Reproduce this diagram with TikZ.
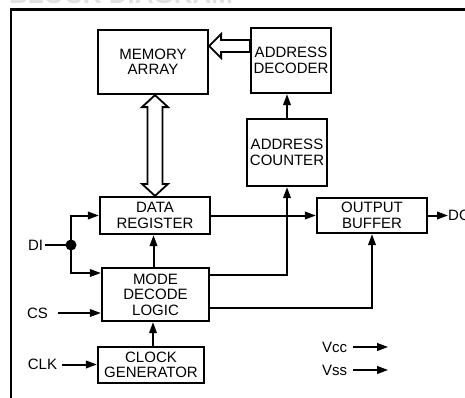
\documentclass[tikz,border=0pt]{standalone}
\usepackage{fontspec}
\setmainfont{Liberation Sans}
\usetikzlibrary{arrows.meta,calc}
\begin{document}
\begin{tikzpicture}[x=1pt,y=-1pt,
  blk/.style={draw,line width=2.2pt,align=center,inner sep=0pt,
    font=\fontsize{15}{15.5}\selectfont},
  lbl/.style={inner sep=0pt,font=\fontsize{15}{15}\selectfont},
  arr/.style={line width=2pt,-{Triangle[length=11pt,width=7.5pt]}},
  wire/.style={line width=2pt},
  hollow/.style={line width=1.8pt,fill=white,line join=miter}]
\useasboundingbox (0,0) rectangle (465,397);
% clipped title
\node[anchor=base west,inner sep=0pt,text=gray!25,font=\bfseries\fontsize{26}{26}\selectfont] (title) at (9,3) {BLOCK DIAGRAM};
% frame
\draw[line width=2.2pt] (11,400) |- (470,9.5);
% blocks
\node[blk,minimum width=110pt,minimum height=64pt] (mem) at (153,62) {MEMORY\\ARRAY};
\node[blk,minimum width=80pt,minimum height=65pt] (dec) at (291,60.5) {ADDRESS\\DECODER};
\node[blk,minimum width=80pt,minimum height=67pt] (cnt) at (287,152.5) {ADDRESS\\COUNTER};
\node[blk,minimum width=110pt,minimum height=37pt] (dreg) at (155,215.5) {DATA\\REGISTER};
\node[blk,minimum width=107pt,minimum height=53pt] (mode) at (155.5,294.5) {MODE\\DECODE\\LOGIC};
\node[blk,minimum width=106pt,minimum height=36pt] (clk) at (151,365) {CLOCK\\GENERATOR};
\node[blk,minimum width=110pt,minimum height=35pt] (obuf) at (372,215.5) {OUTPUT\\BUFFER};
% hollow double arrow between memory array and data register
\coordinate (vt) at (mem.south -| 155,0);
\coordinate (vb) at (dreg.north -| 155,0);
\draw[hollow] (vt) -- ++(13,12) -- ++(-5.5,0) -- ($(vb)+(7.5,-12)$) -- ++(5.5,0) -- (vb)
  -- ++(-13,-12) -- ++(5.5,0) -- ($(vt)+(-7.5,12)$) -- ++(-5.5,0) -- cycle;
% hollow arrow from address decoder to memory array
\coordinate (ht) at (mem.east |- 0,46);
\coordinate (hs) at (dec.west |- 0,46);
\draw[hollow] (ht) -- ++(12,-12) -- ++(0,6) -- ($(hs)+(0,-6)$) -- ++(0,12) -- ($(ht)+(12,6)$) -- ++(0,6) -- cycle;
% connectors
\draw[arr] (cnt.north) -- (cnt.north |- dec.south);
\draw[arr] (dreg.east) -- (dreg.east -| obuf.west);
\draw[arr] ([yshift=19.5pt]mode.east) -| (cnt.south);
\draw[arr] ([yshift=-13.5pt]mode.east) -| (obuf.south);
\draw[arr] ([xshift=-2pt]mode.north) -- ([xshift=-2pt]mode.north |- dreg.south);
\draw[arr] ([xshift=2pt]clk.north) -- ([xshift=2pt]clk.north |- mode.south);
% inputs
\node[lbl] (di) at (35.5,245) {DI};
\coordinate (j) at (71,245);
\draw[wire] (di.east) ++(2,0) -- (j);
\fill (j) circle (5.5);
\draw[arr] (j) |- (dreg.west);
\draw[arr] (j) |- ([yshift=21.5pt]mode.west);
\node[lbl] (cs) at (37.5,313) {CS};
\draw[arr] ([xshift=10pt]cs.east) -- (cs.east -| mode.west);
\node[lbl] (clkin) at (42.5,364.5) {CLK};
\draw[arr] ([xshift=5pt]clkin.east) -- (clkin.east -| clk.west);
% output
\node[lbl,anchor=west] (do) at (448,215.5) {DO};
\draw[arr] (obuf.east) -- (do.west);
% supplies
\node[lbl] (vcc) at (334.5,347) {Vcc};
\draw[arr] ([xshift=6pt]vcc.east) -- ++(35,0);
\node[lbl] (vss) at (334.5,370) {Vss};
\draw[arr] ([xshift=6pt]vss.east) -- ++(35,0);
\end{tikzpicture}
\end{document}
